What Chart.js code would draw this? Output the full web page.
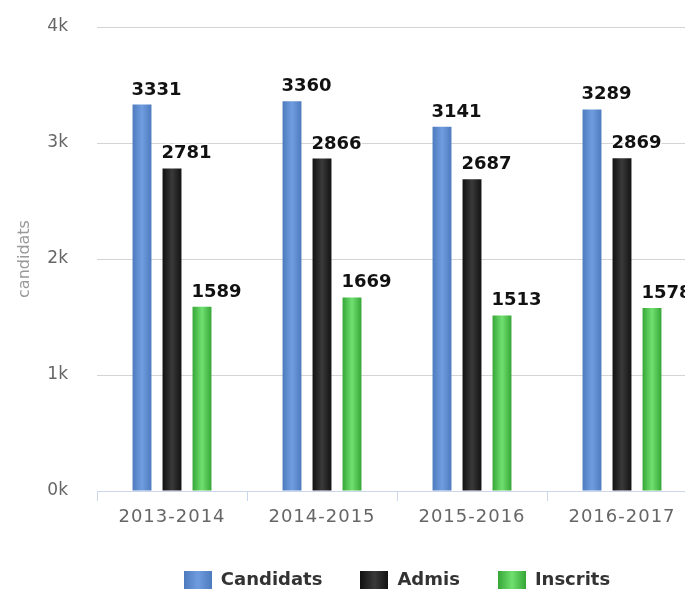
<!DOCTYPE html>
<html><head><meta charset="utf-8">
<script src="https://cdn.jsdelivr.net/npm/chart.js@4.4.1/dist/chart.umd.min.js"></script>
<style>
html,body{margin:0;padding:0;overflow:hidden;background:#fff;width:685px;height:589px}
#wrap{position:absolute;left:0;top:0;width:793px;height:599px}
</style>
</head><body><div id="wrap"><canvas id="c"></canvas></div>
<script>
const categories = ['2013-2014', '2014-2015', '2015-2016', '2016-2017'];
const seriesNames = ['Candidats', 'Admis', 'Inscrits'];
const candidats = [3331, 3360, 3141, 3289];
const admis = [2781, 2866, 2687, 2869];
const inscrits = [1589, 1669, 1513, 1578];
const yTickValues = [0, 1000, 2000, 3000, 4000];
const yTickLabels = ['0k', '1k', '2k', '3k', '4k'];
const yTitle = 'candidats';

const gradStops = [
  ['#4d7bbd', '#6f9de0', '#4d7bbd'],
  ['#121212', '#3a3a3a', '#121212'],
  ['#36a636', '#70e070', '#36a636']
];
function makeGrad(ctx, x0, x1, stops) {
  const g = ctx.createLinearGradient(x0, 0, x1, 0);
  g.addColorStop(0, stops[0]); g.addColorStop(0.5, stops[1]); g.addColorStop(1, stops[2]);
  return g;
}
function legendImage(stops) {
  const cv = document.createElement('canvas');
  cv.width = 28; cv.height = 19;
  const c = cv.getContext('2d');
  c.fillStyle = makeGrad(c, 0, 28, stops);
  c.fillRect(0, 0, 28, 19);
  return cv;
}

const barGradient = {
  id: 'barGradient',
  beforeDatasetsDraw(chart) {
    const ctx = chart.ctx;
    chart.data.datasets.forEach((ds, i) => {
      chart.getDatasetMeta(i).data.forEach(el => {
        const l = el.x - el.width / 2, r = el.x + el.width / 2;
        el.options = Object.assign({}, el.options, {backgroundColor: makeGrad(ctx, l, r, gradStops[i])});
      });
    });
  }
};
const valueLabels = {
  id: 'valueLabels',
  afterDatasetsDraw(chart) {
    const ctx = chart.ctx;
    ctx.save();
    ctx.font = 'bold 18px "DejaVu Sans"';
    ctx.textAlign = 'left';
    ctx.textBaseline = 'alphabetic';
    ctx.lineJoin = 'round';
    chart.data.datasets.forEach((ds, i) => {
      chart.getDatasetMeta(i).data.forEach((el, j) => {
        const t = String(ds.data[j]);
        const x = el.x - el.width / 2 - 1, y = el.y - 10;
        ctx.strokeStyle = 'rgba(255,255,255,0.9)';
        ctx.lineWidth = 3;
        ctx.strokeText(t, x, y);
        ctx.fillStyle = '#111';
        ctx.fillText(t, x, y);
      });
    });
    ctx.restore();
  }
};

const seriesData = [candidats, admis, inscrits];
new Chart(document.getElementById('c'), {
  type: 'bar',
  data: {
    labels: categories,
    datasets: seriesNames.map((n, i) => ({
      label: n,
      data: seriesData[i],
      backgroundColor: gradStops[i][0],
      borderWidth: 0,
      categoryPercentage: 0.6,
      barPercentage: 0.63,
      pointStyle: legendImage(gradStops[i])
    }))
  },
  options: {
    responsive: true,
    maintainAspectRatio: false,
    animation: false,
    devicePixelRatio: 1,
    layout: {padding: {left: 0, right: 96, top: 27, bottom: 0}},
    plugins: {
      tooltip: {enabled: false},
      legend: {
        position: 'bottom',
        fullSize: false,
        labels: {
          usePointStyle: true,
          pointStyleWidth: 28,
          boxHeight: 18,
          padding: 38,
          color: '#333',
          font: {family: 'DejaVu Sans', size: 18, weight: 'bold'}
        }
      }
    },
    scales: {
      x: {
        afterFit(s) {
          s.height = 42;
          if (!s._lsPatched) {
            const orig = s.drawLabels;
            s.drawLabels = function (area) {
              const c = this.ctx; const prev = c.letterSpacing;
              c.letterSpacing = '1px';
              orig.call(this, area);
              c.letterSpacing = prev || '0px';
            };
            s._lsPatched = true;
          }
        },
        grid: {display: true, drawOnChartArea: false, drawTicks: true, tickLength: 10, color: '#ccd6eb', offset: true},
        border: {display: true, color: '#ccd6eb'},
        ticks: {color: '#666', padding: 6, font: {family: 'DejaVu Sans', size: 18}}
      },
      y: {
        min: 0, max: 4000,
        afterFit(s) { s.width = 97; },
        afterBuildTicks(s) { s.ticks = yTickValues.map(v => ({value: v})); },
        grid: {color: '#d4d4d4', drawTicks: true, tickLength: 25, tickColor: 'rgba(0,0,0,0)'},
        border: {display: false},
        ticks: {
          color: '#666', padding: 4,
          font: {family: 'DejaVu Sans', size: 17},
          callback: (v) => yTickLabels[yTickValues.indexOf(v)]
        },
        title: {display: true, text: yTitle, color: '#999', padding: {top: 15}, font: {family: 'DejaVu Sans', size: 16}}
      }
    }
  },
  plugins: [barGradient, valueLabels]
});
</script>
</body></html>
